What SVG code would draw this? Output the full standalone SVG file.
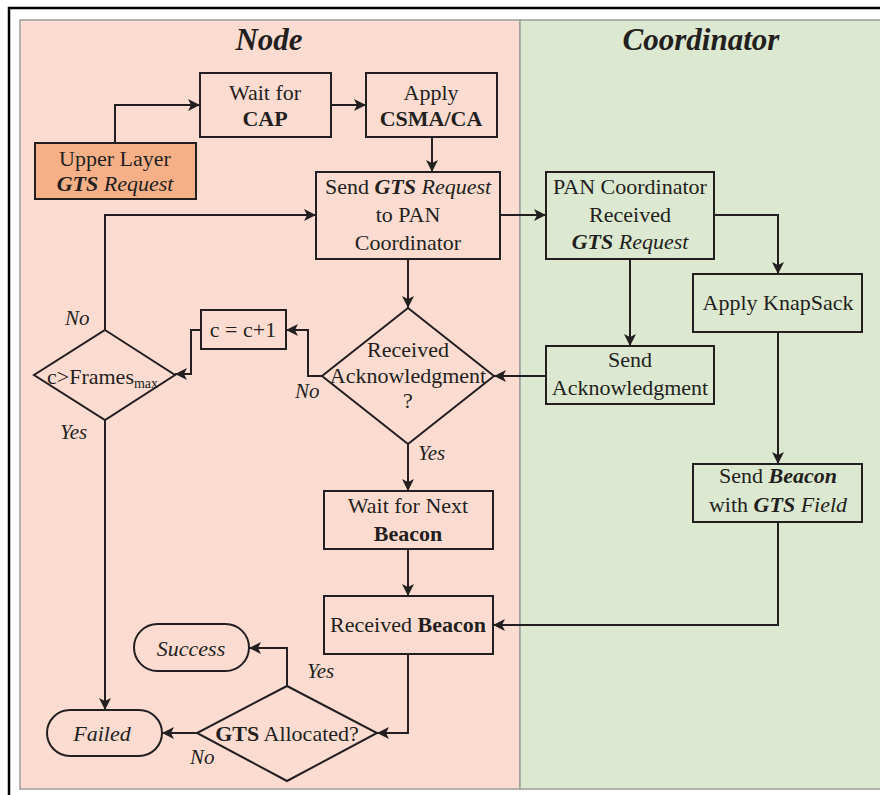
<svg xmlns="http://www.w3.org/2000/svg" width="880" height="795" viewBox="0 0 880 795">
<style>
text{font-family:"Liberation Serif","Times New Roman",serif;font-size:22px;fill:#231f20;text-anchor:middle}
.title{font-size:31px;font-weight:bold;font-style:italic}
.b{font-weight:bold}
.i{font-style:italic}
.bi{font-weight:bold;font-style:italic}
.lbl{font-style:italic;font-size:21px;text-anchor:start}
.box{fill:none;stroke:#231f20;stroke-width:2}
.conn path{fill:none;stroke:#231f20;stroke-width:2;marker-end:url(#ah)}
.conn path.na{marker-end:none}
</style>
<defs>
<marker id="ah" viewBox="0 0 12 12" refX="12" refY="6" markerWidth="12" markerHeight="12" markerUnits="userSpaceOnUse" orient="auto">
<path d="M0,0 L12,6 L0,12 L3,6 Z" fill="#231f20"/>
</marker>
</defs>
<rect x="0" y="0" width="880" height="795" fill="#ffffff"/>
<rect x="9" y="8" width="890" height="810" fill="none" stroke="#000" stroke-width="2.5"/>
<rect id="lane-node" x="20" y="20" width="500" height="769" fill="#fcdcd0" stroke="#9d9d9d" stroke-width="1.5"/>
<rect id="lane-coord" x="520" y="20" width="370" height="769" fill="#dde8d0" stroke="#9d9d9d" stroke-width="1.5"/>
<text class="title" x="269" y="50">Node</text>
<text class="title" x="701" y="50">Coordinator</text>

<g id="upper">
<rect x="35" y="143" width="161" height="56" fill="#f5b088" stroke="#231f20" stroke-width="2"/>
<text x="115" y="166">Upper Layer</text>
<text x="115" y="191"><tspan class="bi">GTS</tspan> <tspan class="i">Request</tspan></text>
</g>
<g id="waitcap">
<rect class="box" x="200" y="73" width="131" height="64"/>
<text x="265" y="100">Wait for</text>
<text x="265" y="126" class="b">CAP</text>
</g>
<g id="csma">
<rect class="box" x="366" y="73" width="131" height="64"/>
<text x="431" y="100">Apply</text>
<text x="431" y="126" class="b">CSMA/CA</text>
</g>
<g id="sendreq">
<rect class="box" x="316" y="172" width="184" height="87"/>
<text x="408" y="194">Send <tspan class="bi">GTS</tspan> <tspan class="i">Request</tspan></text>
<text x="408" y="222">to PAN</text>
<text x="408" y="250">Coordinator</text>
</g>
<g id="panrecv">
<rect class="box" x="546" y="172" width="168" height="87"/>
<text x="630" y="194">PAN Coordinator</text>
<text x="630" y="222">Received</text>
<text x="630" y="249"><tspan class="bi">GTS</tspan> <tspan class="i">Request</tspan></text>
</g>
<g id="knapsack">
<rect class="box" x="693" y="274" width="169" height="58"/>
<text x="778" y="310">Apply KnapSack</text>
</g>
<g id="sendack">
<rect class="box" x="546" y="346" width="168" height="58"/>
<text x="630" y="367">Send</text>
<text x="630" y="395">Acknowledgment</text>
</g>
<g id="recvack">
<polygon class="box" points="408,308 494,376 408,444 322,376"/>
<text x="408" y="357">Received</text>
<text x="408" y="383">Acknowledgment</text>
<text x="408" y="408">?</text>
</g>
<g id="incr">
<rect class="box" x="201" y="310" width="85" height="39"/>
<text x="243" y="337">c = c+1</text>
</g>
<g id="frames">
<polygon class="box" points="105,330 175,375 105,420 34,375"/>
<text x="47" y="384" style="text-anchor:start">c&gt;Frames<tspan font-size="14" dy="4">max</tspan></text>
</g>
<g id="sendbeacon">
<rect class="box" x="693" y="464" width="169" height="58"/>
<text x="778" y="483">Send <tspan class="bi">Beacon</tspan></text>
<text x="778" y="512">with <tspan class="bi">GTS</tspan> <tspan class="i">Field</tspan></text>
</g>
<g id="waitbeacon">
<rect class="box" x="324" y="491" width="169" height="58"/>
<text x="408" y="513">Wait for Next</text>
<text x="408" y="541" class="b">Beacon</text>
</g>
<g id="recvbeacon">
<rect class="box" x="324" y="596" width="169" height="58"/>
<text x="408" y="632">Received <tspan class="b">Beacon</tspan></text>
</g>
<g id="gtsalloc">
<polygon class="box" points="287,686 377,733 287,781 197,733"/>
<text x="287" y="741"><tspan class="b">GTS</tspan> Allocated?</text>
</g>
<g id="success">
<rect class="box" x="134" y="624" width="115" height="47" rx="23.5"/>
<text x="191" y="656" class="i">Success</text>
</g>
<g id="failed">
<rect class="box" x="47" y="710" width="115" height="46" rx="23"/>
<text x="102" y="741" class="i">Failed</text>
</g>

<g id="connectors" class="conn">
<path d="M115,143 V105 H200"/>
<path d="M331,105 H366"/>
<path d="M432,137 V172"/>
<path d="M500,215 H546"/>
<path d="M105,330 V215 H316"/>
<path d="M408,259 V308"/>
<path d="M630,259 V346"/>
<path d="M714,215 H778 V274"/>
<path d="M778,332 V464"/>
<path d="M546,376 H494"/>
<path d="M322,376 H308 V330 H286"/>
<path d="M201,330 H191 V374 H175"/>
<path d="M408,444 V491"/>
<path d="M408,549 V596"/>
<path d="M778,522 V625 H493"/>
<path d="M408,654 V733 H377"/>
<path d="M287,686 V648 H249"/>
<path d="M197,733 H162"/>
<path d="M105,420 V710"/>
</g>
<g id="labels">
<text class="lbl" x="65" y="325">No</text>
<text class="lbl" x="60" y="439">Yes</text>
<text class="lbl" x="295" y="398">No</text>
<text class="lbl" x="418" y="460">Yes</text>
<text class="lbl" x="307" y="678">Yes</text>
<text class="lbl" x="190" y="764">No</text>
</g>
</svg>
